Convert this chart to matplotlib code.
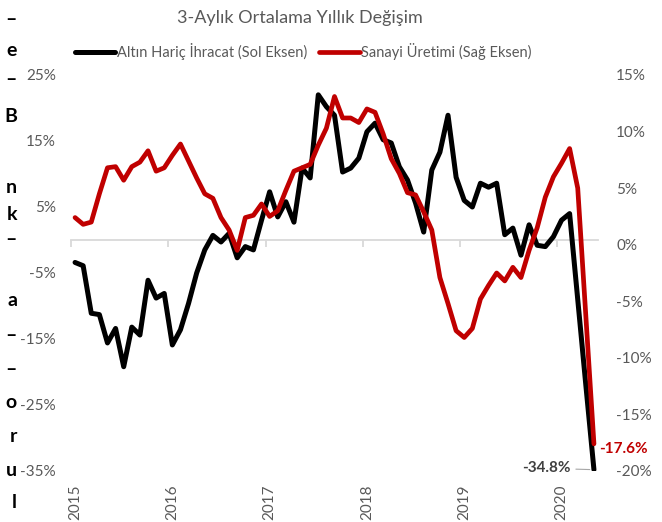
import matplotlib.pyplot as plt
import numpy as np

plt.rcParams['font.family'] = ['Lato', 'DejaVu Sans']

# monthly, Jan 2015 - May 2020
months = np.arange(65)
years = ["2015", "2016", "2017", "2018", "2019", "2020"]

# Altin haric ihracat, 3-ay ort. yillik degisim (%) - sol eksen
ihracat = [-3.4, -3.9, -11.1, -11.3, -15.6, -13.4, -19.2, -13.2, -14.4, -6.1, -8.8, -8.1,
           -15.9, -13.6, -9.6, -5.0, -1.5, 0.7, -0.3, 1.0, -2.7, -1.0, -1.5, 3.0,
           7.3, 3.5, 5.8, 2.7, 10.9, 9.4, 22.0, 20.2, 18.9, 10.3, 10.9, 12.4,
           16.4, 17.7, 15.2, 14.7, 11.1, 9.1, 5.6, 1.2, 10.6, 13.3, 18.9, 9.5,
           6.0, 5.0, 8.6, 8.0, 8.6, 0.8, 1.8, -2.3, 2.3, -0.8, -1.0, 0.5,
           3.0, 4.0, -9.0, -22.0, -34.8]

# Sanayi uretimi (%) - sag eksen
sanayi = [2.4, 1.8, 2.0, 4.5, 6.8, 6.9, 5.7, 6.9, 7.3, 8.3, 6.5, 6.8,
          7.9, 8.9, 7.4, 5.9, 4.5, 4.1, 2.4, 1.3, -0.5, 2.4, 2.6, 3.6,
          2.5, 3.0, 4.8, 6.5, 6.8, 7.1, 8.8, 10.3, 13.1, 11.2, 11.2, 10.8,
          12.0, 11.7, 9.8, 7.6, 6.3, 4.6, 4.4, 2.9, 1.3, -2.9, -5.2, -7.6,
          -8.2, -7.4, -4.8, -3.6, -2.5, -3.2, -2.0, -2.9, -0.5, 1.5, 4.2, 6.0,
          7.2, 8.5, 5.0, -6.3, -17.6]

left_ticks = list(range(-35, 26, 10))
right_ticks = list(range(-20, 16, 5))

# cut-off text from the neighbouring column on the left edge
side_chars = ["–", "e", "–", "B", "n", "k", "–", "a", "–", "–", "o", "r", "u", "l"]
side_y = [20, 50, 80, 117, 188, 214, 240, 300, 336, 370, 403, 437, 470, 502]

grey = '#595959'

fig = plt.figure(figsize=(6.62, 5.22), dpi=100)
ax = fig.add_axes([71/662, 1-471/522, 527/662, 396/522])
ax2 = ax.twinx()

l1, = ax.plot(months, ihracat, color='black', lw=3.6, zorder=3,
              solid_joinstyle='round', solid_capstyle='round',
              label='Altın Hariç İhracat (Sol Eksen)')
l2, = ax2.plot(months, sanayi, color='#C00000', lw=3.4, zorder=3,
               solid_joinstyle='round', solid_capstyle='round',
               label='Sanayi Üretimi (Sağ Eksen)')

ax.set_xlim(-0.5, 64.5)
ax.set_ylim(-35, 25)
ax2.set_ylim(-20, 15)

for s in ['top', 'left', 'right']:
    ax.spines[s].set_visible(False)
for s in ax2.spines.values():
    s.set_visible(False)
ax.spines['bottom'].set_position(('data', 0))
ax.spines['bottom'].set_color('#D9D9D9')
ax.spines['bottom'].set_linewidth(1.3)
ax.spines['bottom'].set_zorder(1)

ax.set_xticks(np.arange(-0.5, 65, 12))
ax.tick_params(axis='x', direction='out', length=5, width=1.3,
               color='#D9D9D9', labelbottom=False)

sec = ax.secondary_xaxis('bottom')
sec.set_xticks(months[::12], labels=years, rotation=90)
sec.spines['bottom'].set_visible(False)
sec.tick_params(length=0, pad=10, labelsize=11, labelcolor=grey)

ax.set_yticks(left_ticks, labels=[f"{v}%" for v in left_ticks])
ax.tick_params(axis='y', length=0, pad=11, labelsize=11, labelcolor=grey)
ax2.set_yticks(right_ticks, labels=[f"{v}%" for v in right_ticks])
ax2.tick_params(axis='y', length=0, pad=13, labelsize=11, labelcolor=grey)

ax.annotate("-34.8%", xy=(months[-1], ihracat[-1]), xytext=(-17, 1),
            textcoords='offset points', ha='right', va='center',
            fontsize=11, fontweight='bold', color='#404040',
            arrowprops=dict(arrowstyle='-', color='#A6A6A6', lw=0.8,
                            shrinkA=2, shrinkB=3))
ax2.annotate("-17.6%", xy=(months[-1], sanayi[-1]), xytext=(4, -4),
             textcoords='offset points', ha='left', va='center',
             fontsize=11, fontweight='bold', color='#C00000')

fig.text(300/662, 1-18/522, "3-Aylık Ortalama Yıllık Değişim",
         ha='center', va='center', fontsize=13, color=grey)
fig.legend(handles=[l1, l2], loc='center', bbox_to_anchor=(303/662, 1-52/522),
           ncol=2, frameon=False, fontsize=10.5, labelcolor=grey,
           handlelength=2.8, handletextpad=0.1, columnspacing=0.8)

for ch, y in zip(side_chars, side_y):
    fig.text(17/662, 1-y/522, ch, ha='right', va='center',
             fontsize=14, fontweight='bold', color='black')

fig.savefig('out.png', dpi=100)
